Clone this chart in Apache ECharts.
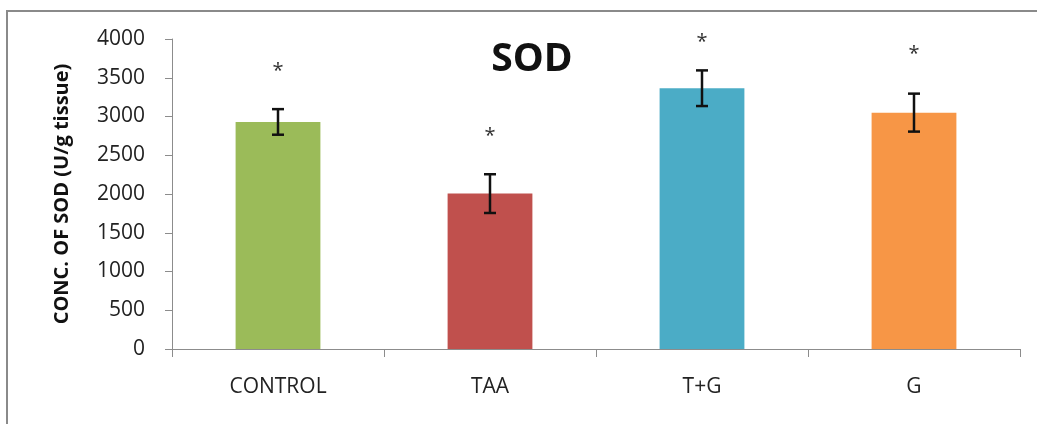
<!DOCTYPE html>
<html>
<head>
<meta charset="utf-8">
<script src="https://cdn.jsdelivr.net/npm/echarts@6/dist/echarts.min.js"></script>
<style>
html,body{margin:0;padding:0;background:#fff;}
#chart{width:1037px;height:424px;}
</style>
</head>
<body>
<div id="chart"></div>
<script>
// Data
const categories = ['CONTROL', 'TAA', 'T+G', 'G'];
const sodValues = [2930, 2005, 3365, 3050];
const sodErrors = [165, 250, 230, 245];
const starValues = [3640, 2800, 4010, 3850];
const barColors = ['#9BBB59', '#C0504D', '#4BACC6', '#F79646'];
const yTicks = { min: 0, max: 4000, interval: 500 };

const font = '"Open Sans", "DejaVu Sans", sans-serif';
const chart = echarts.init(document.getElementById('chart'));

const option = {
  animation: false,
  backgroundColor: '#fff',
  title: {
    text: 'SOD',
    left: 527,
    top: 35,
    textAlign: 'center',
    textStyle: { fontFamily: font, fontWeight: 'bold', fontSize: 39, color: '#111' }
  },
  graphic: [{
    type: 'rect',
    shape: { x: 7, y: 11, width: 1060, height: 440 },
    style: { fill: 'none', stroke: '#8a8a8a', lineWidth: 2 },
    z: 100
  }],
  grid: { left: 172, right: 17, top: 39, bottom: 75 },
  xAxis: {
    type: 'category',
    data: categories,
    axisLine: { lineStyle: { color: '#8c8c8c', width: 1 } },
    axisTick: { show: true, length: 8, alignWithLabel: false, lineStyle: { color: '#8c8c8c' } },
    axisLabel: { fontFamily: font, fontSize: 21, color: '#222', margin: 28 }
  },
  yAxis: {
    type: 'value',
    min: yTicks.min, max: yTicks.max, interval: yTicks.interval,
    name: 'CONC. OF SOD (U/g tissue)',
    nameLocation: 'middle',
    nameGap: 100,
    nameRotate: 90,
    nameTextStyle: { fontFamily: font, fontWeight: 'bold', fontSize: 20, color: '#111' },
    axisLine: { show: true, lineStyle: { color: '#8c8c8c', width: 1 } },
    axisTick: { show: true, length: 7, lineStyle: { color: '#8c8c8c' } },
    splitLine: { show: false },
    axisLabel: {
      fontFamily: font, fontSize: 21, color: '#222', margin: 27,
      formatter: function (v) { return String(v); }
    }
  },
  series: [
    {
      type: 'bar',
      data: sodValues.map((v, i) => ({ value: v, itemStyle: { color: barColors[i] } })),
      barWidth: '40%',
      z: 2
    },
    {
      type: 'custom',
      data: sodValues.map((v, i) => [i, v, sodErrors[i]]),
      renderItem: function (params, api) {
        const i = api.value(0), m = api.value(1), e = api.value(2);
        const top = api.coord([i, m + e]);
        const bot = api.coord([i, m - e]);
        const hw = 6;
        const style = { stroke: '#111', lineWidth: 2.5 };
        return {
          type: 'group',
          children: [
            { type: 'line', shape: { x1: top[0], y1: top[1], x2: bot[0], y2: bot[1] }, style },
            { type: 'line', shape: { x1: top[0] - hw, y1: top[1], x2: top[0] + hw, y2: top[1] }, style },
            { type: 'line', shape: { x1: bot[0] - hw, y1: bot[1], x2: bot[0] + hw, y2: bot[1] }, style }
          ]
        };
      },
      z: 5
    },
    {
      type: 'custom',
      data: starValues.map((v, i) => [i, v]),
      clip: false,
      renderItem: function (params, api) {
        const p = api.coord([api.value(0), api.value(1)]);
        return {
          type: 'text',
          x: p[0],
          y: p[1] + 4,
          style: {
            text: '*',
            fontFamily: font,
            fontSize: 20,
            fill: '#333',
            align: 'center',
            verticalAlign: 'middle'
          }
        };
      },
      z: 6
    }
  ]
};
chart.setOption(option);
</script>
</body>
</html>
